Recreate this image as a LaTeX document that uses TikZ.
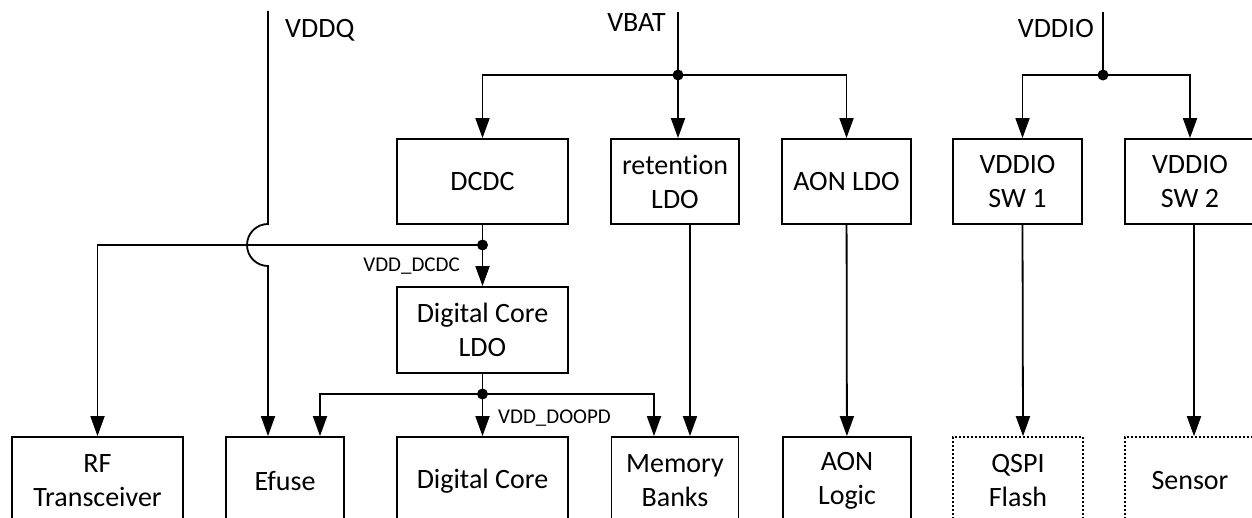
\documentclass[tikz,border=0pt]{standalone}
\usepackage{fontspec}
\setmainfont{Carlito}[Ligatures = NoCommon]
\usetikzlibrary{arrows.meta}

\tikzset{
	blk/.style = {draw, line width = 1.8pt, align = center, inner sep = 0pt, font = \fontsize{28}{34}\selectfont},
	extblk/.style = {blk, line width = 1.6pt, dash pattern = on 2pt off 2pt},
	wire/.style = {line width = 1.8pt},
	feed/.style = {wire, -{Triangle[length = 20pt, width = 14pt]}},
	rail/.style = {inner sep = 0pt, font = \fontsize{28}{34}\selectfont},
	net/.style = {inner sep = 0pt, font = \fontsize{21}{25}\selectfont}
}

\begin{document}
\begin{tikzpicture}[x = 1pt, y = 1pt]
			\useasboundingbox (0, 0) rectangle (1252, 517);
			% regulators
			\node[blk, minimum width = 171pt, minimum height = 85pt] (dcdc) at (482.5, 335.5) {DCDC};
			\node[blk, minimum width = 128pt, minimum height = 85pt] (retldo) at (675, 335.5) {retention\\LDO};
			\node[blk, minimum width = 129pt, minimum height = 85pt] (aonldo) at (846.5, 335.5) {AON LDO};
			\node[blk, minimum width = 129pt, minimum height = 85pt] (swa) at (1017.5, 335.5) {VDDIO\\SW 1};
			\node[blk, minimum width = 130pt, minimum height = 85pt] (swb) at (1190, 335.5) {VDDIO\\SW 2};
			\node[blk, minimum width = 171pt, minimum height = 86pt] (coreldo) at (482.5, 187) {Digital Core\\LDO};
			% loads
			\node[blk, minimum width = 171pt, minimum height = 88pt] (rf) at (97.5, 36) {RF\\Transceiver};
			\node[blk, minimum width = 118pt, minimum height = 88pt] (efuse) at (285, 36) {Efuse};
			\node[blk, minimum width = 171pt, minimum height = 88pt] (dcore) at (482.5, 36) {Digital Core};
			\node[blk, minimum width = 127pt, minimum height = 88pt] (mem) at (675, 36) {Memory\\Banks};
			\node[blk, minimum width = 128pt, minimum height = 88pt] (aonlogic) at (847, 36) {AON\\Logic};
			\node[extblk, minimum width = 130pt, minimum height = 88pt] (qspi) at (1018, 36) {QSPI\\Flash};
			\node[extblk, minimum width = 130pt, minimum height = 88pt] (sensor) at (1190, 36) {Sensor};
			% rails and junctions
			\coordinate (vddq) at (268, 506);
			\coordinate (vbat) at (678, 505);
			\coordinate (vddio) at (1103, 505);
			\coordinate (jbat) at (678, 442);
			\coordinate (jio) at (1103, 442);
			\coordinate (jdcdc) at (482.5, 272);
			\coordinate (jcore) at (482.5, 123);
			\coordinate (hop) at (268, 293);
			\node[rail, anchor = base west] (lvddq) at (285, 479) {VDDQ};
			\node[rail, anchor = base east] (lvbat) at (666, 485) {VBAT};
			\node[rail, anchor = base east] (lvddio) at (1094, 479) {VDDIO};
			\node[net, anchor = base east] (ldcdc) at (460, 245) {VDD\_DCDC};
			\node[net, anchor = base west] (lcore) at (498, 94) {VDD\_DOOPD};
			% VBAT
			\draw[wire] (vbat) -- (jbat);
			\draw[feed] (jbat) -| (dcdc.north);
			\draw[feed] (jbat) -- (jbat |- retldo.north);
			\draw[feed] (jbat) -| (aonldo.north);
			% VDDIO
			\draw[wire] (vddio) -- (jio);
			\draw[feed] (jio) -| ([xshift = 5pt]swa.north);
			\draw[feed] (jio) -| (swb.north);
			% VDDQ
			\draw[feed] (vddq) -- (hop) arc[start angle = 90, end angle = 270, radius = 21] -- (vddq |- efuse.north);
			% VDD_DCDC
			\draw[wire] (dcdc) -- (jdcdc);
			\draw[feed] (jdcdc) -- (coreldo);
			\draw[feed] (jdcdc) -| (rf);
			% VDD_DOOPD
			\draw[wire] (coreldo) -- (jcore);
			\draw[feed] (jcore) -- (dcore);
			\draw[feed] (jcore) -| ([xshift = 35pt]efuse.north);
			\draw[feed] (jcore) -| ([xshift = -21pt]mem.north);
			% outputs
			\draw[feed] ([xshift = 15pt]retldo.south) -- ([xshift = 15pt]mem.north);
			\draw[feed] (aonldo) -- (aonlogic);
			\draw[feed] ([xshift = 5pt]swa.south) -- ([xshift = 5pt]qspi.north);
			\draw[feed] ([xshift = 4pt]swb.south) -- ([xshift = 4pt]sensor.north);
			\foreach \j in {jbat, jio, jdcdc, jcore}
			\fill (\j) circle (5.5);
			\end{tikzpicture}
\end{document}
